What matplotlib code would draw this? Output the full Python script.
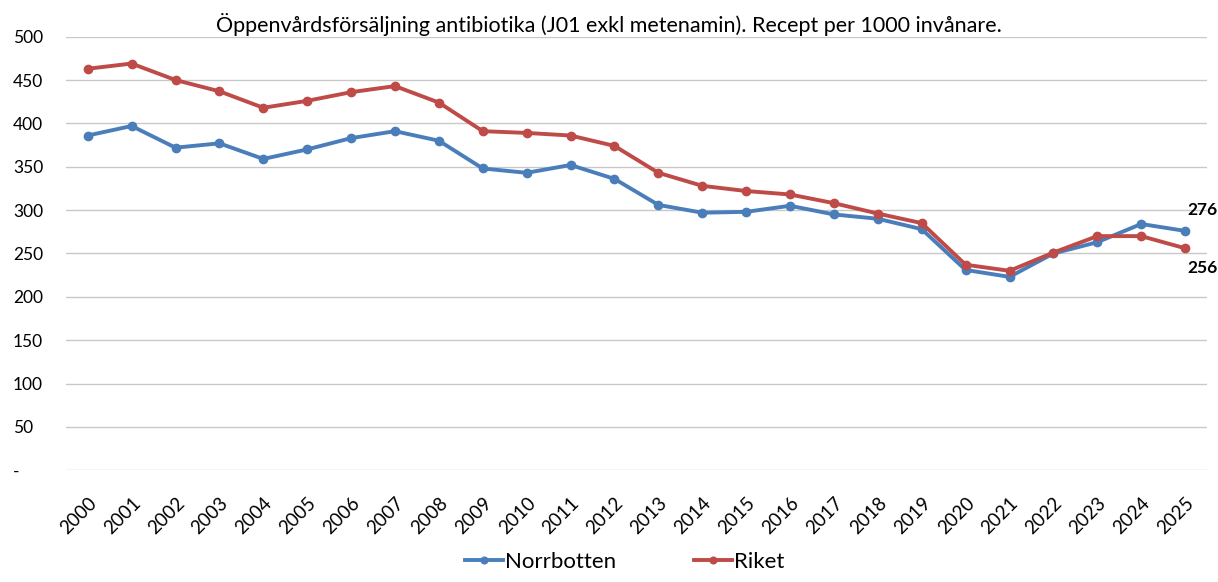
import matplotlib.pyplot as plt

plt.rcParams['font.family'] = ['Lato', 'DejaVu Sans']

years = [str(y) for y in range(2000, 2026)]
norrbotten = [386, 397, 372, 377, 359, 370, 383, 391, 380, 348, 343, 352, 336,
              306, 297, 298, 305, 295, 290, 278, 231, 223, 250, 263, 284, 276]
riket = [463, 469, 450, 437, 418, 426, 436, 443, 424, 391, 389, 386, 374,
         343, 328, 322, 318, 308, 296, 285, 237, 230, 251, 270, 270, 256]
yticks = [0, 50, 100, 150, 200, 250, 300, 350, 400, 450, 500]
ytick_labels = ['-'] + [str(v) for v in yticks[1:]]

blue = '#4a7ebb'
red = '#be4b48'

fig = plt.figure(figsize=(12.18, 5.82), dpi=100)
ax = fig.add_axes([0.054, 0.192, 0.937, 0.745])

x = list(range(len(years)))
ax.plot(x, norrbotten, color=blue, lw=2.8, marker='o', ms=6, label='Norrbotten')
ax.plot(x, riket, color=red, lw=2.8, marker='o', ms=6, label='Riket')

ax.set_xlim(-0.5, len(years) - 0.5)
ax.set_ylim(0, 500)
ax.set_yticks(yticks)
ax.set_yticklabels(ytick_labels, fontsize=12.5)
ax.set_xticks(x)
ax.set_xticklabels(years, rotation=45, ha='right', rotation_mode='anchor', fontsize=13.5)
ax.grid(axis='y', color='#c8c8c8', lw=1)
ax.set_axisbelow(True)
for s in ax.spines.values():
    s.set_visible(False)
ax.tick_params(length=0)
ax.tick_params(axis='x', pad=17)
ax.tick_params(axis='y', pad=38)
for lbl in ax.get_yticklabels():
    lbl.set_horizontalalignment('left')

ax.annotate(str(norrbotten[-1]), (x[-1], norrbotten[-1]), xytext=(2, 15),
            textcoords='offset points', fontsize=12.5, fontweight='bold', va='center')
ax.annotate(str(riket[-1]), (x[-1], riket[-1]), xytext=(2, -14),
            textcoords='offset points', fontsize=12.5, fontweight='bold', va='center')

fig.text(0.5, 0.958, 'Öppenvårdsförsäljning antibiotika (J01 exkl metenamin). Recept per 1000 invånare.',
         ha='center', va='center', fontsize=15.5)
fig.legend(loc='center', bbox_to_anchor=(0.513, 0.035), ncol=2, frameon=False,
           fontsize=16, handlelength=1.7, handletextpad=0.1, columnspacing=3.5,
           markerscale=0.8, borderpad=0)

fig.savefig('out.png', dpi=100)
